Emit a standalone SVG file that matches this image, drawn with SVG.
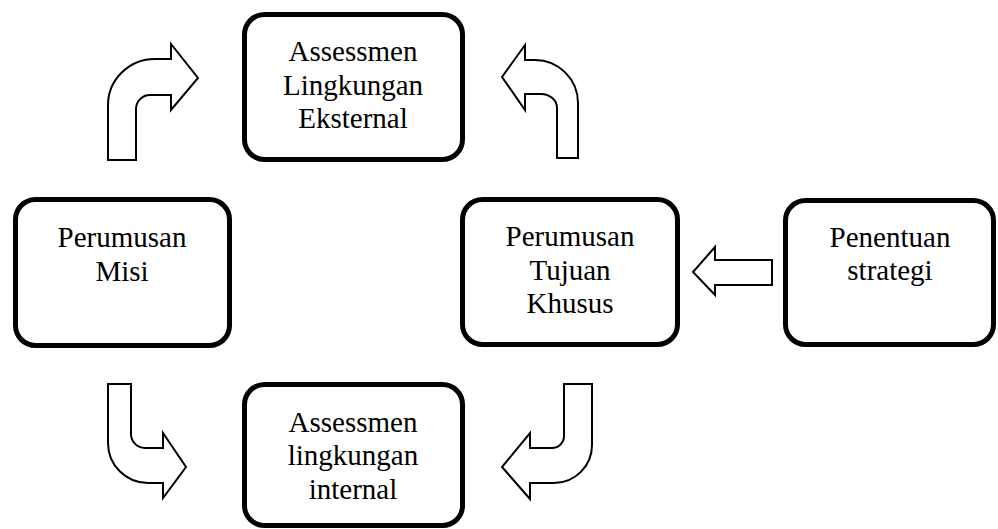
<svg xmlns="http://www.w3.org/2000/svg" width="998" height="529" viewBox="0 0 998 529">
<style>
.box{fill:#fff;stroke:#000;stroke-width:5}
.arr{fill:#fff;stroke:#000;stroke-width:2;stroke-linejoin:miter}
</style>
<rect width="998" height="529" fill="#fff"/>
<g font-family="Liberation Serif, DejaVu Serif, serif" font-size="29" text-anchor="middle" fill="#000">
<g id="eksternal">
<rect class="box" x="244.5" y="14.5" width="218" height="145" rx="20"/>
<text x="353" y="61">Assessmen</text>
<text x="353" y="95">Lingkungan</text>
<text x="353" y="128">Eksternal</text>
</g>
<g id="misi">
<rect class="box" x="15.5" y="199.5" width="214" height="146" rx="20"/>
<text x="122" y="247">Perumusan</text>
<text x="122" y="281">Misi</text>
</g>
<g id="tujuan">
<rect class="box" x="462.5" y="199.5" width="215" height="145" rx="20"/>
<text x="570" y="246">Perumusan</text>
<text x="570" y="280">Tujuan</text>
<text x="570" y="313">Khusus</text>
</g>
<g id="strategi">
<rect class="box" x="785.5" y="200.5" width="208" height="144" rx="20"/>
<text x="890" y="247">Penentuan</text>
<text x="890" y="280">strategi</text>
</g>
<g id="internal">
<rect class="box" x="244.5" y="384.5" width="218" height="141" rx="20"/>
<text x="353" y="432">Assessmen</text>
<text x="353" y="465">lingkungan</text>
<text x="353" y="499">internal</text>
</g>
</g>
<g id="connectors">
<path class="arr" d="M108,160 L108,105 A47,46 0 0 1 155,59 L171,59 L171,44 L198,78 L171,110 L171,95 L150,95 A14,14 0 0 0 136,109 L136,160 Z"/>
<path class="arr" d="M557,158 L557,108 A16,14 0 0 0 541,94 L525,94 L525,110 L502,77 L525,45 L525,60 L535,60 A43,43 0 0 1 578,103 L578,158 Z"/>
<path class="arr" d="M108,384 L131,384 L131,434 A14,14 0 0 0 145,448 L163,448 L163,433 L186,467 L163,498 L163,483 L148,483 A40,40 0 0 1 108,443 Z"/>
<path class="arr" d="M564,384 L592,384 L592,445 A38,38 0 0 1 554,483 L530,483 L530,499 L502,467 L530,433 L530,448 L552,448 A12,12 0 0 0 564,436 Z"/>
<path class="arr" d="M772,260 L715,260 L715,247 L693,272 L715,295 L715,285 L772,285 Z"/>
</g>
</svg>
